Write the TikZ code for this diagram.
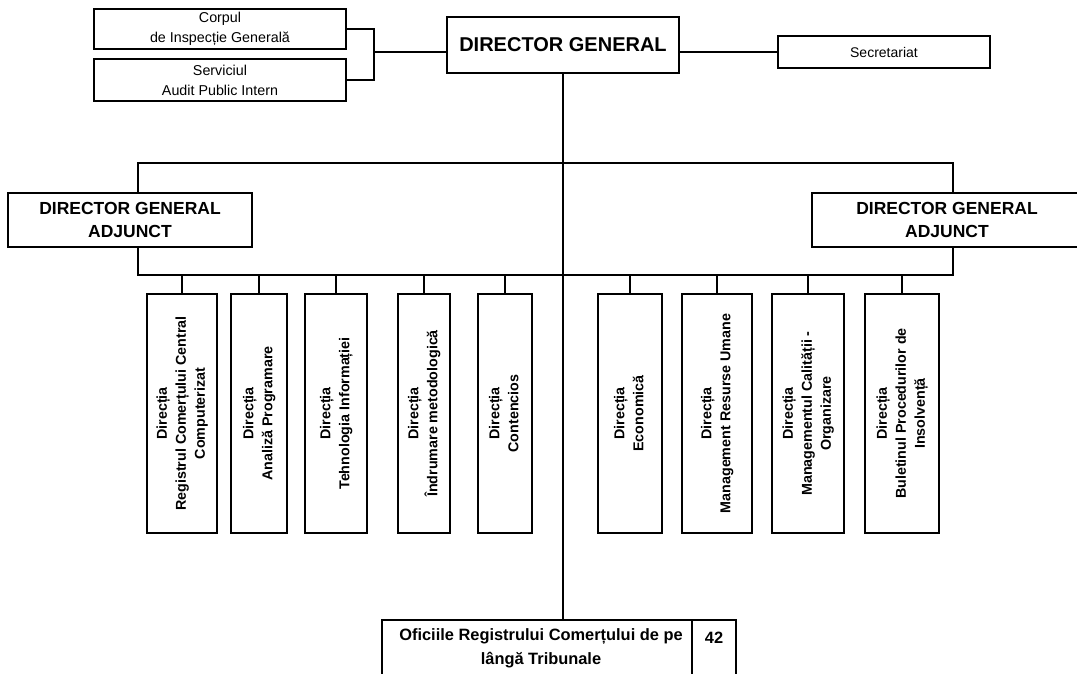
\documentclass[tikz,border=0pt]{standalone}
\usepackage{fontspec}
\setmainfont{Liberation Sans}
\tikzset{
  box/.style={draw, line width=1.4pt, fill=white, inner sep=0pt, align=center, text=black},
  wire/.style={line width=1.3pt},
  vbox/.style={box, minimum height=239pt, font=\fontsize{14.3}{19}\selectfont\bfseries},
  bigbold/.style={font=\fontsize{17.5}{23.5}\selectfont\bfseries},
  smalltext/.style={font=\fontsize{14.3}{20}\selectfont},
}
\newcommand{\vtext}[1]{\rotatebox{90}{\begin{tabular}{@{}c@{}}#1\end{tabular}}}
\begin{document}
\begin{tikzpicture}[x=1pt,y=-1pt]
\useasboundingbox (0,0) rectangle (1077,673);
\clip (0,0) rectangle (1077,673);
\fill[white] (0,0) rectangle (1077,673);

% top row
\node[box, smalltext, minimum width=252pt, minimum height=40pt] (corp) at (220,29) {Corpul\\de Inspecție Generală};
\node[box, smalltext, minimum width=252pt, minimum height=42pt] (serv) at (220,80) {Serviciul\\Audit Public Intern};
\node[box, minimum width=232pt, minimum height=56pt, font=\fontsize{20}{24}\selectfont\bfseries] (dg) at (563,45) {DIRECTOR GENERAL};
\node[box, minimum width=212pt, minimum height=32pt, font=\fontsize{14}{17}\selectfont] (sec) at (884,52) {Secretariat};

% deputies
\node[box, bigbold, minimum width=244pt, minimum height=54pt] (dgal) at (130,220) {DIRECTOR GENERAL\\ADJUNCT};
\node[box, bigbold, minimum width=270pt, minimum height=54pt] (dgar) at (947,220) {DIRECTOR GENERAL\\ADJUNCT};

% directorates
\node[vbox, minimum width=70pt] (b1) at (182,413.5) {\vtext{Direcția\\Registrul Comerțului Central\\Computerizat}};
\node[vbox, minimum width=56pt] (b2) at (259,413.5) {\vtext{Direcția\\Analiză Programare}};
\node[vbox, minimum width=62pt] (b3) at (336,413.5) {\vtext{Direcția\\Tehnologia Informației}};
\node[vbox, minimum width=52pt] (b4) at (424,413.5) {\vtext{Direcția\\Îndrumare metodologică}};
\node[vbox, minimum width=54pt] (b5) at (505,413.5) {\vtext{Direcția\\Contencios}};
\node[vbox, minimum width=64pt] (b6) at (630,413.5) {\vtext{Direcția\\Economică}};
\node[vbox, minimum width=70pt] (b7) at (717,413.5) {\vtext{Direcția\\Management Resurse Umane}};
\node[vbox, minimum width=72pt] (b8) at (808,413.5) {\vtext{Direcția\\Managementul Calității -\\Organizare}};
\node[vbox, minimum width=74pt] (b9) at (902,413.5) {\vtext{Direcția\\Buletinul Procedurilor de\\Insolvență}};

% offices
\node[box, minimum width=310pt, minimum height=56pt, font=\fontsize{16.4}{24}\selectfont\bfseries] (ofi) at (537,648) {\hspace*{8pt}Oficiile Registrului Comerțului de pe\\\hspace*{8pt}lângă Tribunale};
\node[box, minimum width=44pt, minimum height=56pt] (ofin) at (714,648) {};
\node[inner sep=0pt, font=\fontsize{16.4}{20}\selectfont\bfseries] (num) at (714,638) {42};

% connectors
\coordinate (jx) at (374,52);
\draw[wire] (corp.east) -- (corp.east -| jx) -- (serv.east -| jx) -- (serv.east);
\draw[wire] (jx) -- (jx -| dg.west);
\draw[wire] (dg.east |- sec.west) -- (sec.west);
\draw[wire] (dg.south) -- (ofi.north -| dg.south);

\coordinate (tl) at (138,163);
\coordinate (tr) at (953,163);
\coordinate (bl) at (138,275);
\coordinate (br) at (953,275);
\draw[wire] (dgal.north -| tl) -- (tl) -- (tr) -- (dgar.north -| tr);
\draw[wire] (dgal.south -| bl) -- (bl) -- (br) -- (dgar.south -| br);

\foreach \b in {b1,b2,b3,b4,b5,b6,b7,b8,b9}
  \draw[wire] (\b.north) -- (\b.north |- bl);
\end{tikzpicture}
\end{document}
